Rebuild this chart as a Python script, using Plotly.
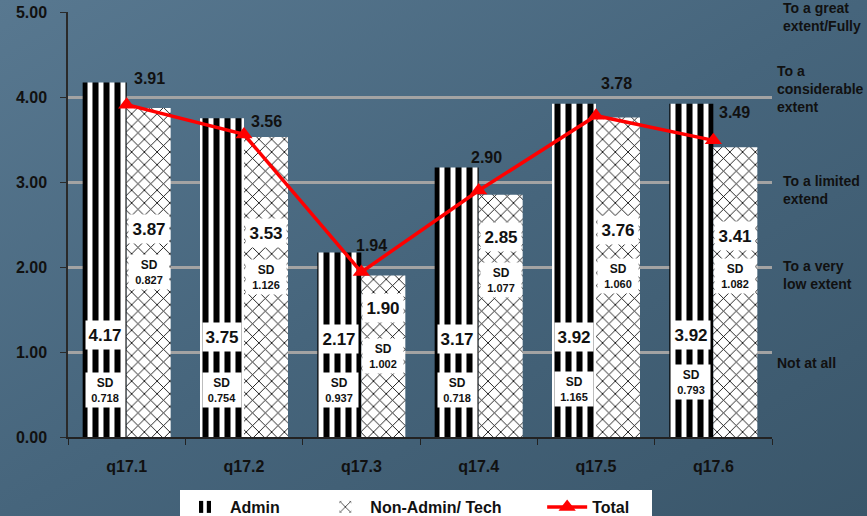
import base64
import plotly.graph_objects as go

# ---------------- data ----------------
categories = ["q17.1", "q17.2", "q17.3", "q17.4", "q17.5", "q17.6"]
admin = [4.17, 3.75, 2.17, 3.17, 3.92, 3.92]
non_admin = [3.87, 3.53, 1.90, 2.85, 3.76, 3.41]
total = [3.91, 3.56, 1.94, 2.90, 3.78, 3.49]
sd_admin = [0.718, 0.754, 0.937, 0.718, 1.165, 0.793]
sd_non_admin = [0.827, 1.126, 1.002, 1.077, 1.060, 1.082]
y_tick_vals = [0, 1, 2, 3, 4, 5]
y_tick_text = ["0.00", "1.00", "2.00", "3.00", "4.00", "5.00"]
scale_levels = [5, 4, 3, 2, 1]
scale_labels = ["To a great<br>extent/Fully", "To a<br>considerable<br>extent",
                "To a limited<br>extend", "To a very<br>low extent", "Not at all"]

# ---------------- layout helpers (positions/styles) ----------------
admin_val_y = [1.20, 1.18, 1.15, 1.15, 1.18, 1.20]
admin_sd_y = [0.55, 0.55, 0.55, 0.55, 0.56, 0.65]
non_val_y = [2.45, 2.40, 1.52, 2.35, 2.44, 2.36]
non_sd_y = [1.94, 1.88, 0.95, 1.85, 1.90, 1.90]
total_lbl_shift = [(23, 26), (22, 13), (10, 27), (8, 33), (20, 32), (21, 28)]
scale_shift = [(9, -5), (3, 8), (9, -8), (9, -8), (3, -11)]
PAD = "\u00a0" * 8

FONT = "Liberation Sans, Arial, sans-serif"
TXT = "#111111"
W, H = 867, 516
L, R, T, B = 68, 95, 12, 79
PW, PH = W - L - R, H - T - B

fig = go.Figure()

fig.add_trace(go.Bar(
    name="Admin" + PAD, x=categories, y=admin,
    marker=dict(color="white", line=dict(width=0),
                pattern=dict(shape="|", fgcolor="black", bgcolor="white",
                             size=11, solidity=0.55, fillmode="replace")),
))
fig.add_trace(go.Bar(
    name="Non-Admin/ Tech" + PAD, x=categories, y=non_admin,
    marker=dict(color="white", line=dict(width=0),
                pattern=dict(shape="x", fgcolor="black", bgcolor="white",
                             size=9, solidity=0.18, fillmode="replace")),
))
fig.add_trace(go.Scatter(
    name="Total" + "\u00a0" * 4, x=categories, y=total, mode="lines+markers",
    line=dict(color="#ff0000", width=3.5),
    marker=dict(symbol="triangle-up", size=15, color="#ff0000"),
))

ann = []
for i, c in enumerate(categories):
    ann.append(dict(x=c, y=admin_val_y[i], xref="x", yref="y", xshift=-22,
                    text=f"{admin[i]:.2f}", showarrow=False, bgcolor="white",
                    width=36, height=26, font=dict(family=FONT, size=17, color=TXT, weight="bold")))
    ann.append(dict(x=c, y=admin_sd_y[i], xref="x", yref="y", xshift=-22,
                    text=f"<span style='font-size:12px'>SD</span><br>{sd_admin[i]:.3f}",
                    showarrow=False, bgcolor="white", width=36, height=32,
                    font=dict(family=FONT, size=11, color=TXT, weight="bold")))
    ann.append(dict(x=c, y=non_val_y[i], xref="x", yref="y", xshift=22,
                    text=f"{non_admin[i]:.2f}", showarrow=False, bgcolor="white",
                    width=38, height=26, font=dict(family=FONT, size=17, color=TXT, weight="bold")))
    ann.append(dict(x=c, y=non_sd_y[i], xref="x", yref="y", xshift=22,
                    text=f"<span style='font-size:12px'>SD</span><br>{sd_non_admin[i]:.3f}",
                    showarrow=False, bgcolor="white", width=38, height=32,
                    font=dict(family=FONT, size=11, color=TXT, weight="bold")))
    dx, dy = total_lbl_shift[i]
    ann.append(dict(x=c, y=total[i], xref="x", yref="y", xshift=dx, yshift=dy,
                    text=f"{total[i]:.2f}", showarrow=False,
                    font=dict(family=FONT, size=16, color=TXT, weight="bold")))

for lv, lb, (dx, dy) in zip(scale_levels, scale_labels, scale_shift):
    ann.append(dict(x=1, y=lv, xref="paper", yref="y", xanchor="left", yanchor="middle",
                    xshift=dx, yshift=dy, text=lb, showarrow=False, align="left",
                    font=dict(family=FONT, size=14, color=TXT, weight="bold")))

svg = ('<svg xmlns="http://www.w3.org/2000/svg" width="867" height="516">'
       '<defs><linearGradient id="g" x1="0" y1="0" x2="1" y2="1">'
       '<stop offset="0" stop-color="#587890"/><stop offset="0.5" stop-color="#46657c"/>'
       '<stop offset="1" stop-color="#3a566a"/></linearGradient></defs>'
       '<rect width="867" height="516" fill="url(#g)"/></svg>')
src = "data:image/svg+xml;base64," + base64.b64encode(svg.encode()).decode()

fig.update_layout(
    width=W, height=H,
    margin=dict(l=L, r=R, t=T, b=B, pad=0, autoexpand=False),
    paper_bgcolor="#46657c", plot_bgcolor="rgba(0,0,0,0)",
    barmode="group", bargap=0.25, bargroupgap=0,
    showlegend=True,
    legend=dict(orientation="h", x=(180 - L) / PW, y=(437 - 490) / PH,
                xanchor="left", yanchor="top", bgcolor="white",
                font=dict(family=FONT, size=16, color=TXT, weight="bold"),
                itemwidth=40, traceorder="normal"),
    annotations=ann,
    images=[dict(source=src, xref="paper", yref="paper", x=-L / PW, y=1 + T / PH,
                 sizex=W / PW, sizey=H / PH, xanchor="left", yanchor="top",
                 sizing="stretch", layer="below")],
    xaxis=dict(showgrid=False, showline=True, linecolor="#222222", linewidth=1.5,
               ticks="outside", tickson="boundaries", ticklen=6, tickcolor="#222222",
               ticklabelstandoff=14,
               tickfont=dict(family=FONT, size=16, color=TXT, weight="bold")),
    yaxis=dict(range=[0, 5], tickvals=y_tick_vals, ticktext=y_tick_text,
               showgrid=True, gridcolor="#a3a3a3", gridwidth=3, zeroline=False,
               showline=True, linecolor="#2a2a2a", linewidth=1.5,
               ticks="outside", ticklen=6, tickcolor="#2a2a2a", ticklabelstandoff=10,
               tickfont=dict(family=FONT, size=16, color=TXT, weight="bold")),
)

fig.write_html("out.html", config={"displayModeBar": False},
               post_script="document.body.style.margin='0';")
